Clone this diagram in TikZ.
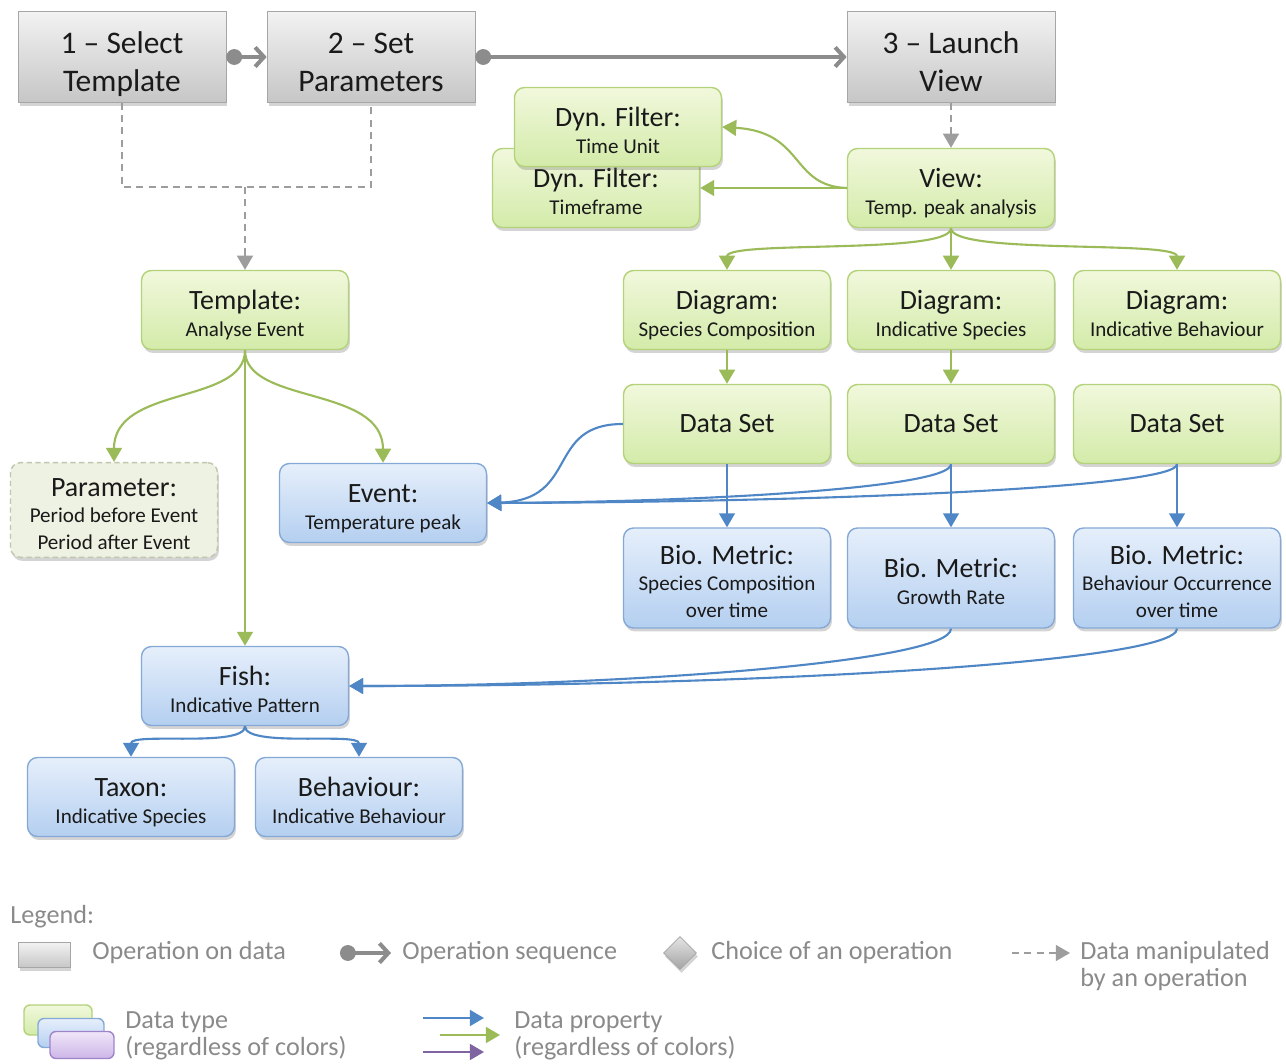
\documentclass[tikz,border=0pt]{standalone}
\usepackage{fontspec}
\setmainfont{Carlito}
\usetikzlibrary{arrows.meta,shadows,shapes.geometric}

\definecolor{gFill1}{HTML}{F1F8DC}
\definecolor{gFill2}{HTML}{D3EBA9}
\definecolor{gLine}{HTML}{B3D27A}
\definecolor{gArrow}{HTML}{9BBB59}
\definecolor{bFill1}{HTML}{E6EFFB}
\definecolor{bFill2}{HTML}{B4CFF0}
\definecolor{bLine}{HTML}{85A9D6}
\definecolor{bArrow}{HTML}{4F86C6}
\definecolor{pFill1}{HTML}{F0E6F8}
\definecolor{pFill2}{HTML}{CDB6E8}
\definecolor{pLine}{HTML}{9F84C9}
\definecolor{pArrow}{HTML}{8064A2}
\definecolor{opTop}{HTML}{F2F2F2}
\definecolor{opBot}{HTML}{C6C6C6}
\definecolor{opLine}{HTML}{A6A6A6}
\definecolor{diaTop}{HTML}{E4E4E4}
\definecolor{diaBot}{HTML}{A4A4A4}
\definecolor{seqGray}{HTML}{8C8C8C}
\definecolor{legGray}{HTML}{8A8A8A}
\definecolor{parFill}{HTML}{EEF2E2}
\definecolor{parLine}{HTML}{BFC7AE}
\definecolor{txt}{HTML}{1A1A1A}

\newcommand\ftitle{\fontsize{17.9}{22}\selectfont}
\newcommand\fhead{\fontsize{15.9}{18}\selectfont}
\newcommand\fsub{\fontsize{12}{15.2}\selectfont}
\newcommand\fleg{\fontsize{14.9}{15.3}\selectfont}
% heading line of a data node, with a taller strut so the block sits a bit lower
\newcommand\hd[1]{{\fhead\rule{0pt}{18pt}#1}}
% last line of a data node, with a fixed depth
\newcommand\lst[1]{\rule[-3.5pt]{0pt}{0pt}#1}
% the two lines of an operation box
\newcommand\optxt[2]{\rule{0pt}{22pt}#1\\\rule[-4.5pt]{0pt}{0pt}#2}

\tikzset{
  x=0.02cm, y=-0.02cm,
  softshadow/.style={drop shadow={shadow xshift=0.03cm, shadow yshift=-0.07cm, opacity=0.28, fill=black!60}},
  opbox/.style={draw=opLine, line width=0.4pt, top color=opTop, bottom color=opBot,
    minimum width=4.16cm, minimum height=1.82cm, inner ysep=0pt, align=center, font=\ftitle,
    text=txt, softshadow},
  databox/.style={rounded corners=0.2cm, line width=0.8pt, minimum width=4.14cm,
    minimum height=1.58cm, inner ysep=1pt, align=center, font=\fsub, text=txt, softshadow},
  greenbox/.style={databox, draw=gLine, top color=gFill1, bottom color=gFill2},
  bluebox/.style={databox, draw=bLine, top color=bFill1, bottom color=bFill2},
  parambox/.style={databox, draw=parLine, fill=parFill, dashed, dash pattern=on 3pt off 2pt,
    minimum height=1.88cm},
  garrow/.style={draw=gArrow, line width=1.2pt, -{Triangle[width=9pt,length=8pt]}},
  barrow/.style={draw=bArrow, line width=1.2pt, -{Triangle[width=9pt,length=8pt]}},
  parrow/.style={draw=pArrow, line width=1.2pt, -{Triangle[width=9pt,length=8pt]}},
  seqarrow/.style={draw=seqGray, line width=2.3pt,
    {Circle[length=9pt]}-{Straight Barb[length=5pt,width=11pt,line width=2.3pt]}},
  dashlink/.style={draw=seqGray!85, line width=1pt, dash pattern=on 4pt off 3pt},
  dasharrow/.style={dashlink, -{Triangle[width=9pt,length=8pt]}},
  legtext/.style={text=legGray, font=\fleg, anchor=west, align=left, inner sep=0pt},
}

\begin{document}
\begin{tikzpicture}
\useasboundingbox[fill=white] (0,0) rectangle (1286,1064);

% --- operations ---
\node[opbox] (op1) at (122,57) {\optxt{1 -- Select}{Template}};
\node[opbox] (op2) at (371,57) {\optxt{2 -- Set}{Parameters}};
\node[opbox] (op3) at (951,57) {\optxt{3 -- Launch}{View}};

\draw[seqarrow] (op1.east) -- (op2.west);
\draw[seqarrow] (op2.east) -- (op3.west);

% --- data nodes ---
\node[greenbox] (tmpl) at (245,310) {\hd{Template:}\\\lst{Analyse Event}};
\node[greenbox] (frame) at (596,188) {\hd{Dyn. Filter:}\\\lst{Timeframe}};
\node[greenbox] (unit) at (618,127) {\hd{Dyn. Filter:}\\\lst{Time Unit}};
\node[greenbox] (view) at (951,188) {\hd{View:}\\\lst{Temp. peak analysis}};

\node[greenbox] (dg1) at (727,310) {\hd{Diagram:}\\\lst{Species Composition}};
\node[greenbox] (dg2) at (951,310) {\hd{Diagram:}\\\lst{Indicative Species}};
\node[greenbox] (dg3) at (1177,310) {\hd{Diagram:}\\\lst{Indicative Behaviour}};

\node[greenbox, font=\fhead] (ds1) at (727,424) {Data Set};
\node[greenbox, font=\fhead] (ds2) at (951,424) {Data Set};
\node[greenbox, font=\fhead] (ds3) at (1177,424) {Data Set};

\node[bluebox, minimum height=2cm] (bm1) at (727,578) {\hd{Bio. Metric:}\\Species Composition\\\lst{over time}};
\node[bluebox, minimum height=2cm] (bm2) at (951,578) {\hd{Bio. Metric:}\\\lst{Growth Rate}};
\node[bluebox, minimum height=2cm] (bm3) at (1177,578) {\hd{Bio. Metric:}\\Behaviour Occurrence\\\lst{over time}};

\node[parambox] (param) at (114,510) {\hd{Parameter:}\\Period before Event\\\lst{Period after Event}};
\node[bluebox] (event) at (383,503) {\hd{Event:}\\\lst{Temperature peak}};

\node[bluebox] (fish) at (245,686) {\hd{Fish:}\\\lst{Indicative Pattern}};
\node[bluebox] (taxon) at (131,797) {\hd{Taxon:}\\\lst{Indicative Species}};
\node[bluebox] (behav) at (359,797) {\hd{Behaviour:}\\\lst{Indicative Behaviour}};

% --- data manipulated by operations ---
\coordinate (j1) at (122,187);
\coordinate (j2) at (371,187);
\coordinate (jm) at (245,187);
\draw[dashlink] (op1.south) -- (j1) -- (j2) -- (op2.south);
\draw[dasharrow] (jm) -- (tmpl.north);
\draw[dasharrow] (op3.south) -- (view.north);

% --- green properties ---
\draw[garrow] (view.west) -- (frame.east);
\draw[garrow] (view.west) .. controls (790,186) and (805,132) .. (unit.east);
\draw[garrow] (view.south) .. controls (951,255) and (727,240) .. (dg1.north);
\draw[garrow] (view.south) -- (dg2.north);
\draw[garrow] (view.south) .. controls (951,255) and (1177,240) .. (dg3.north);
\draw[garrow] (dg1.south) -- (ds1.north);
\draw[garrow] (dg2.south) -- (ds2.north);

\draw[garrow] (tmpl.south) .. controls (245,405) and (114,385) .. (param.north);
\draw[garrow] (tmpl.south) .. controls (245,405) and (383,385) .. (event.north);
\draw[garrow] (tmpl.south) -- (fish.north);

% --- blue properties ---
\draw[barrow] (ds1.south) -- (bm1.north);
\draw[barrow] (ds2.south) -- (bm2.north);
\draw[barrow] (ds3.south) -- (bm3.north);
\draw[barrow] (ds1.west) .. controls (545,424) and (580,500) .. (event.east);
\draw[barrow] (ds2.south) .. controls (951,488) and (700,502) .. (event.east);
\draw[barrow] (ds3.south) .. controls (1177,488) and (820,502) .. (event.east);
\draw[barrow] (bm2.south) .. controls (951,662) and (620,686) .. (fish.east);
\draw[barrow] (bm3.south) .. controls (1177,662) and (760,686) .. (fish.east);
\draw[barrow] (fish.south) .. controls (245,748) and (131,732) .. (taxon.north);
\draw[barrow] (fish.south) .. controls (245,748) and (359,732) .. (behav.north);

% --- legend ---
\node[legtext] (leghead) at (10,917) {Legend:};

\node[draw=opLine, line width=0.4pt, top color=opTop, bottom color=opBot,
  minimum width=1.04cm, minimum height=0.5cm, inner sep=0pt, softshadow] (legop) at (44,955) {};
\node[legtext] (legoptxt) at (92,953) {Operation on data};

\coordinate (seqA) at (340,953);
\coordinate (seqB) at (391,953);
\draw[seqarrow] (seqA) -- (seqB);
\node[legtext] (legseqtxt) at (402,953) {Operation sequence};

\node[diamond, draw=diaBot, line width=0.4pt, top color=diaTop, bottom color=diaBot,
  minimum size=0.66cm, inner sep=0pt, softshadow] (legdia) at (680,953) {};
\node[legtext] (legdiatxt) at (711,953) {Choice of an operation};

\coordinate (dmA) at (1012,953);
\coordinate (dmB) at (1070,953);
\draw[dasharrow, line width=0.9pt] (dmA) -- (dmB);
\node[legtext] (legdmtxt) at (1080,966) {Data manipulated\\by an operation};

\node[rounded corners=0.12cm, draw=gLine, line width=0.8pt, top color=gFill1, bottom color=gFill2,
  minimum width=1.36cm, minimum height=0.6cm, inner sep=0pt] (legg) at (58,1020) {};
\node[rounded corners=0.12cm, draw=bLine, line width=0.8pt, top color=bFill1, bottom color=bFill2,
  minimum width=1.32cm, minimum height=0.58cm, inner sep=0pt] (legb) at (71,1033) {};
\node[rounded corners=0.12cm, draw=pLine, line width=0.8pt, top color=pFill1, bottom color=pFill2,
  minimum width=1.28cm, minimum height=0.54cm, inner sep=0pt] (legp) at (82,1045) {};
\node[legtext] (legdttxt) at (125,1036) {Data type\\(regardless of colors)};

\coordinate (pbA) at (423,1018);
\coordinate (pbB) at (484,1018);
\coordinate (pgA) at (440,1035);
\coordinate (pgB) at (500,1035);
\coordinate (ppA) at (423,1052);
\coordinate (ppB) at (484,1052);
\draw[barrow] (pbA) -- (pbB);
\draw[garrow] (pgA) -- (pgB);
\draw[parrow] (ppA) -- (ppB);
\node[legtext] (legdptxt) at (514,1036) {Data property\\(regardless of colors)};
\end{tikzpicture}
\end{document}
